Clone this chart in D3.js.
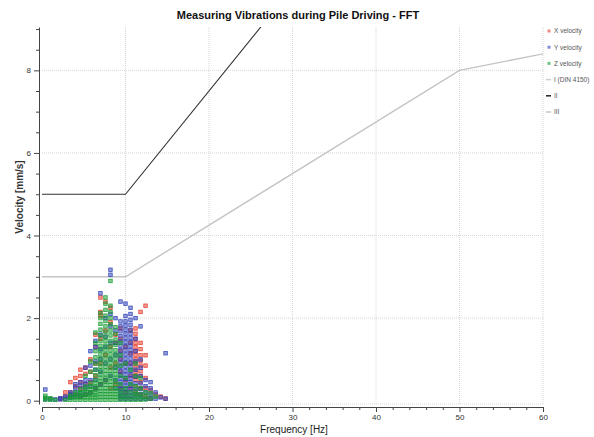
<!DOCTYPE html>
<html>
<head>
<meta charset="utf-8">
<script src="https://cdn.jsdelivr.net/npm/d3@7"></script>
<style>
  body { margin: 0; background: #fff; }
  text { font-family: "Liberation Sans", Arial, sans-serif; }
</style>
</head>
<body>
<div id="chart"></div>
<script>
var svgWidth = 594;
var svgHeight = 437;

// frequency bins of the FFT (Hz)
var freqs = [0.4, 1.0, 1.6, 2.2, 2.8, 3.4, 4.0, 4.6, 5.2, 5.8, 6.4, 7.0, 7.6,
  8.2, 8.8, 9.4, 10.0, 10.6, 11.2, 11.8, 12.4, 13.0, 13.6, 14.2, 14.8];

// velocities (mm/s) read per frequency bin
var xVelocity = [
  [], [], [], [0.05], [0.1, 0.2], [0.12, 0.2, 0.45], [0.15, 0.35, 0.55],
  [0.1, 0.3, 0.45, 0.6, 0.75], [0.15, 0.4, 0.65, 0.8], [0.2, 0.45, 0.7, 1.0],
  [0.3, 0.6, 0.9, 1.3, 1.6], [0.4, 0.9, 1.5, 2.05, 2.15, 2.5], [0.5, 1.1, 1.7, 2.4],
  [0.3, 0.8, 1.3, 1.9, 2.25], [0.4, 0.9, 1.4, 1.6], [0.3, 0.7, 1.0, 1.2, 1.5, 1.75],
  [0.2, 0.5, 0.9, 1.3],
  [0.3, 0.6, 0.9, 1.15, 1.4, 1.7],
  [0.2, 0.35, 0.5, 0.6, 0.7, 0.8, 0.9, 1.0, 1.1, 1.2, 1.3, 1.4, 1.5, 1.62, 1.75],
  [0.15, 0.3, 0.45, 0.6, 0.72, 0.85, 0.97, 1.1, 1.25, 1.4, 2.15],
  [0.1, 0.3, 0.55, 0.85, 1.1, 2.3],
  [0.05, 0.25], [0.15], [0.1], [0.05]
];

var yVelocity = [
  [0.05, 0.27], [0.04], [0.03], [0.03, 0.06], [0.05, 0.1], [0.08, 0.15, 0.2],
  [0.1, 0.2, 0.3, 0.4], [0.1, 0.2, 0.35, 0.45], [0.15, 0.3, 0.4, 0.5, 0.8],
  [0.2, 0.35, 0.5, 0.85, 1.2], [0.3, 0.5, 0.75, 0.95, 1.3, 1.45],
  [0.4, 0.7, 1.0, 1.25, 1.6, 2.6], [0.5, 0.9, 1.3, 1.55, 2.0],
  [0.6, 1.0, 1.4, 1.8, 2.1, 3.05, 3.17], [0.3, 0.5, 0.8, 1.1, 1.4, 1.7, 2.0],
  [0.05, 0.12, 0.2, 0.28, 0.36, 0.45, 0.54, 0.63, 0.72, 0.82, 0.92, 1.02, 1.12,
    1.22, 1.33, 1.44, 1.56, 1.68, 1.8, 1.92, 2.4],
  [0.05, 0.12, 0.2, 0.28, 0.36, 0.45, 0.54, 0.63, 0.72, 0.82, 0.92, 1.02, 1.12,
    1.22, 1.32, 1.42, 1.52, 1.62, 1.72, 1.82, 1.92, 2.05, 2.35],
  [0.05, 0.12, 0.2, 0.28, 0.36, 0.45, 0.54, 0.63, 0.72, 0.82, 0.92, 1.02, 1.12,
    1.22, 1.32, 1.42, 1.52, 1.62, 1.72, 1.84, 1.96, 2.1, 2.25],
  [0.05, 0.15, 0.28, 0.42, 0.58, 0.75, 0.95, 1.2, 1.5, 2.0],
  [0.05, 0.15, 0.28, 0.42, 0.6, 0.8, 1.0, 1.8], [0.05, 0.2, 0.35, 0.5],
  [0.05, 0.15, 0.3, 0.45], [0.05, 0.2], [0.08], [0.05, 1.15]
];

var zVelocity = [
  [0.02, 0.07, 0.12], [0.02, 0.06], [0.02], [], [0.02], [0.02, 0.07, 0.12],
  [0.02, 0.08, 0.14, 0.2], [0.02, 0.08, 0.14, 0.2, 0.27],
  [0.02, 0.08, 0.14, 0.2, 0.27, 0.34, 0.6],
  [0.02, 0.08, 0.14, 0.2, 0.27, 0.34, 0.42, 0.7, 0.95],
  [0.02, 0.08, 0.14, 0.2, 0.27, 0.34, 0.42, 0.5, 0.62, 0.75, 0.9, 1.05, 1.2, 1.4, 1.65],
  [0.02, 0.09, 0.16, 0.23, 0.3, 0.38, 0.46, 0.55, 0.64, 0.73, 0.82, 0.92, 1.02,
    1.12, 1.22, 1.33, 1.45, 1.58, 1.72, 1.86, 2.0, 2.12],
  [0.02, 0.09, 0.16, 0.23, 0.3, 0.38, 0.46, 0.55, 0.64, 0.73, 0.82, 0.92, 1.02,
    1.12, 1.22, 1.33, 1.44, 1.55, 1.67, 1.8, 1.93, 2.06, 2.2, 2.35, 2.5],
  [0.02, 0.09, 0.16, 0.23, 0.3, 0.38, 0.46, 0.55, 0.64, 0.73, 0.82, 0.92, 1.02,
    1.12, 1.22, 1.33, 1.45, 1.58, 1.7, 1.85, 2.0, 2.15, 2.3, 2.9],
  [0.02, 0.09, 0.16, 0.23, 0.3, 0.38, 0.46, 0.55, 0.64, 0.73, 0.82, 0.92, 1.02,
    1.12, 1.22, 1.35, 1.48, 1.62, 1.78],
  [0.02, 0.09, 0.16, 0.25, 0.4, 0.6, 0.85, 1.1, 1.4],
  [0.02, 0.09, 0.18, 0.3, 0.55, 0.9],
  [0.02, 0.1, 0.2, 0.4, 0.75],
  [0.02, 0.09, 0.16, 0.23, 0.35, 0.6, 0.9], [0.02, 0.09, 0.16, 0.3, 0.55],
  [0.03, 0.1, 0.2], [0.05, 0.18], [0.1], [], []
];

// DIN 4150 guideline lines [Hz, mm/s]
var lineI = [[0, 20], [10, 20], [50, 40], [60, 42]];
var lineII = [[0, 5], [10, 5], [50, 15], [60, 16]];
var lineIII = [[0, 3], [10, 3], [50, 8], [60, 8.4]];

var xTicks = [0, 10, 20, 30, 40, 50, 60];
var yTicks = [0, 2, 4, 6, 8];

var svg = d3.select("#chart")
  .append("svg")
  .attr("width", svgWidth)
  .attr("height", svgHeight);

var xScale = d3.scaleLinear().domain([0, 60]).range([42, 543]);
var yScale = d3.scaleLinear().domain([-0.08, 9.05]).range([404, 27]);

svg.append("defs").append("clipPath").attr("id", "plotClip")
  .append("rect")
  .attr("x", 42).attr("y", 27)
  .attr("width", 501).attr("height", 377);

// grid
var grid = svg.append("g").attr("stroke", "#d6d6d6").attr("stroke-dasharray", "1,1");
grid.selectAll(".hg")
  .data([2, 4, 6, 8])
  .enter()
  .append("line")
  .attr("x1", 42).attr("x2", 543)
  .attr("y1", d => yScale(d)).attr("y2", d => yScale(d));
grid.selectAll(".vg")
  .data([10, 20, 30, 40, 50, 60])
  .enter()
  .append("line")
  .attr("x1", d => xScale(d)).attr("x2", d => xScale(d))
  .attr("y1", 27).attr("y2", 404);
grid.append("line")
  .attr("x1", 42).attr("x2", 543).attr("y1", 404).attr("y2", 404);

// guideline lines
var lineGen = d3.line().x(d => xScale(d[0])).y(d => yScale(d[1]));
var lines = svg.append("g").attr("clip-path", "url(#plotClip)").attr("fill", "none");
lines.append("path").attr("d", lineGen(lineI)).attr("stroke", "#cccccc").attr("stroke-width", 1.4);
lines.append("path").attr("d", lineGen(lineIII)).attr("stroke", "#c4c4c4").attr("stroke-width", 1.4);
lines.append("path").attr("d", lineGen(lineII)).attr("stroke", "#333").attr("stroke-width", 1.1);

// scatter points
function toPoints(series) {
  var pts = [];
  series.forEach(function(vals, i) {
    vals.forEach(function(v) { pts.push([freqs[i], v]); });
  });
  return pts;
}

var seriesDefs = [
  { name: "X velocity", data: xVelocity, color: "#e4392a" },
  { name: "Y velocity", data: yVelocity, color: "#2e40b8" },
  { name: "Z velocity", data: zVelocity, color: "#169c32" }
];

var pointsGroup = svg.append("g").attr("clip-path", "url(#plotClip)");
seriesDefs.forEach(function(s) {
  pointsGroup.append("g")
    .selectAll("rect")
    .data(toPoints(s.data))
    .enter()
    .append("rect")
    .attr("x", d => xScale(d[0]) - 1.75)
    .attr("y", d => yScale(d[1]) - 1.75)
    .attr("width", 3.5)
    .attr("height", 3.5)
    .attr("fill", s.color)
    .attr("fill-opacity", 0.5)
    .attr("stroke", s.color)
    .attr("stroke-opacity", 0.9)
    .attr("stroke-width", 0.8);
});

// axes
var xMinor = d3.range(0, 61, 2).filter(d => d % 10 !== 0);
var yMinor = d3.range(0, 9.01, 0.5).filter(d => d % 2 !== 0);

svg.append("g")
  .attr("transform", "translate(0, 407)")
  .call(d3.axisBottom(xScale).tickValues(xTicks).tickSize(5).tickSizeOuter(0).tickPadding(2));
svg.append("g")
  .attr("transform", "translate(0, 407)")
  .call(d3.axisBottom(xScale).tickValues(xMinor).tickSize(3).tickFormat("").tickSizeOuter(0))
  .select(".domain").remove();

svg.append("g")
  .attr("transform", "translate(39, 0)")
  .call(d3.axisLeft(yScale).tickValues(yTicks).tickSize(5).tickSizeOuter(0).tickPadding(3));
svg.append("g")
  .attr("transform", "translate(39, 0)")
  .call(d3.axisLeft(yScale).tickValues(yMinor).tickSize(3).tickFormat("").tickSizeOuter(0))
  .select(".domain").remove();

svg.selectAll(".domain").attr("stroke", "#444");
svg.selectAll(".tick line").attr("stroke", "#444");
svg.selectAll(".tick text")
  .attr("font-family", "Liberation Sans, Arial, sans-serif")
  .attr("font-size", "8px")
  .attr("fill", "#333");

// title and axis labels
svg.append("text")
  .attr("x", 298)
  .attr("y", 19)
  .attr("text-anchor", "middle")
  .attr("font-size", "11px")
  .attr("font-weight", "bold")
  .attr("fill", "#111")
  .text("Measuring Vibrations during Pile Driving - FFT");

svg.append("text")
  .attr("x", 294)
  .attr("y", 433)
  .attr("text-anchor", "middle")
  .attr("font-size", "10px")
  .attr("fill", "#222")
  .text("Frequency [Hz]");

svg.append("text")
  .attr("transform", "translate(23, 197) rotate(-90)")
  .attr("text-anchor", "middle")
  .attr("font-size", "10px")
  .attr("font-weight", "bold")
  .attr("fill", "#333")
  .text("Velocity [mm/s]");

// legend
var legendItems = [
  { label: "X velocity", color: "#e4392a", type: "box" },
  { label: "Y velocity", color: "#2e40b8", type: "box" },
  { label: "Z velocity", color: "#169c32", type: "box" },
  { label: "I (DIN 4150)", color: "#cccccc", type: "line" },
  { label: "II", color: "#222", type: "line" },
  { label: "III", color: "#c4c4c4", type: "line" }
];

var legend = svg.append("g");
legendItems.forEach(function(item, i) {
  var ly = 31 + i * 16.2;
  if (item.type === "box") {
    legend.append("rect")
      .attr("x", 547.5).attr("y", ly - 1.5)
      .attr("width", 3).attr("height", 3)
      .attr("fill", item.color).attr("fill-opacity", 0.6);
  } else {
    legend.append("line")
      .attr("x1", 546).attr("x2", 551)
      .attr("y1", ly).attr("y2", ly)
      .attr("stroke", item.color).attr("stroke-width", 1.5);
  }
  legend.append("text")
    .attr("x", 554)
    .attr("y", ly + 2.3)
    .attr("font-size", "6.5px")
    .attr("fill", "#555")
    .text(item.label);
});
</script>
</body>
</html>
